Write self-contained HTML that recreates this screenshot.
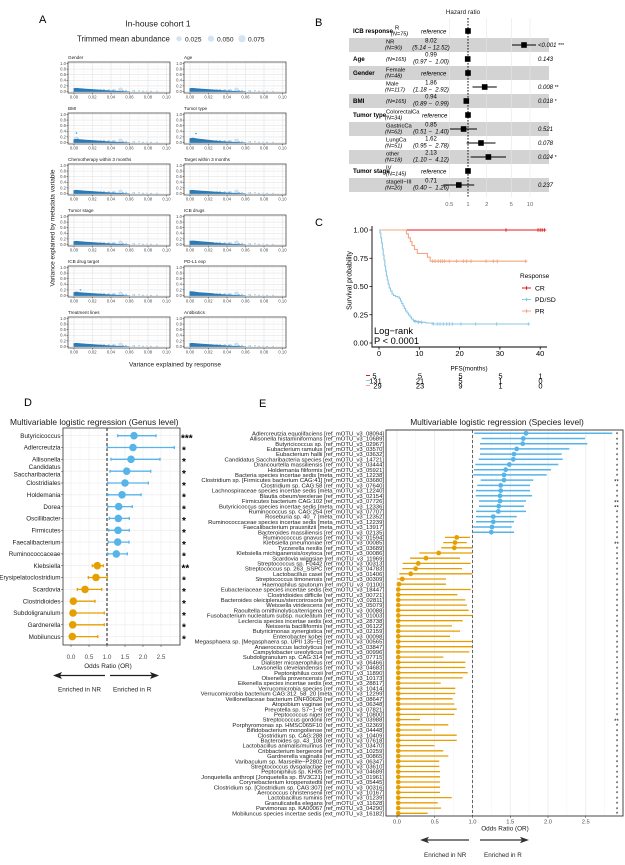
<!DOCTYPE html>
<html><head><meta charset="utf-8">
<style>
html,body{margin:0;padding:0;background:#fff;}
svg{display:block;font-family:"Liberation Sans",Arial,sans-serif;}
.pt{font-size:4.6px;fill:#1a1a1a}
.yt{font-size:4.2px;fill:#4d4d4d;text-anchor:end}
.xt{font-size:4.2px;fill:#4d4d4d;text-anchor:middle}
</style></head><body>
<svg width="625" height="865" viewBox="0 0 625 865" xmlns="http://www.w3.org/2000/svg">
<rect width="625" height="865" fill="#fff"/>
<defs>
<g id="ga">
<rect x="0" y="0" width="102" height="31" fill="#fff"/>
<path d="M15.25 0V31M33.75 0V31M52.25 0V31M70.75 0V31M89.25 0V31M0 26.7H102M0 21.1H102M0 15.5H102M0 9.9H102M0 4.3H102" stroke="#F2F2F2" stroke-width="0.4"/>
<path d="M6 0V31M24.5 0V31M43 0V31M61.5 0V31M80 0V31M98.5 0V31M0 29.5H102M0 23.9H102M0 18.3H102M0 12.7H102M0 7.1H102M0 1.5H102" stroke="#E3E3E3" stroke-width="0.6"/>
</g>
<g id="pa">
<circle cx="52.5" cy="27.8" r="2.3" fill="#C6DBEF" fill-opacity="0.85"/>
<circle cx="46.5" cy="28.4" r="1.5" fill="#C6DBEF" fill-opacity="0.85"/>
<circle cx="33" cy="28.2" r="1.3" fill="#C6DBEF"/>
<circle cx="40" cy="28.6" r="1.1" fill="#C6DBEF"/>
<circle cx="65" cy="29" r="1" fill="#C6DBEF"/>
<circle cx="79" cy="29.1" r="0.9" fill="#C6DBEF"/>
<path d="M5.5 29.9V26.3L8 25.9L12 26.3L18 26.8L26 27.3L34 27.9L42 28.5L50 28.9L58 29.3L62 29.5V29.9Z" fill="#2C7BB6"/>
<g fill="#4292C6">
<circle cx="36" cy="27.4" r="0.55"/><circle cx="41" cy="27.9" r="0.55"/><circle cx="45" cy="28.1" r="0.55"/><circle cx="55" cy="28.6" r="0.55"/><circle cx="58" cy="28.3" r="0.55"/><circle cx="66.5" cy="29" r="0.55"/><circle cx="71" cy="28.8" r="0.55"/><circle cx="75" cy="29.2" r="0.55"/><circle cx="83" cy="29.3" r="0.55"/><circle cx="89" cy="29.3" r="0.5"/>
</g>
</g>
<g id="ba">
<rect x="0" y="0" width="102" height="31" fill="none" stroke="#333" stroke-width="0.7"/>
<path d="M-1.5 29.5H0M-1.5 23.9H0M-1.5 18.3H0M-1.5 12.7H0M-1.5 7.1H0M-1.5 1.5H0M6 31V32.5M24.5 31V32.5M43 31V32.5M61.5 31V32.5M80 31V32.5M98.5 31V32.5" stroke="#333" stroke-width="0.5"/>
</g>
</defs>

<!-- Panel letters -->
<g font-size="11" fill="#000">
<text x="39" y="23">A</text>
<text x="315" y="26">B</text>
<text x="315" y="226">C</text>
<text x="24" y="406">D</text>
<text x="259" y="407">E</text>
</g>

<!-- ========== Panel A ========== -->
<text x="158" y="26.7" font-size="8.4" text-anchor="middle" fill="#1a1a1a">In-house cohort 1</text>
<text x="77" y="41.5" font-size="7.8" fill="#1a1a1a">Trimmed mean abundance</text>
<circle cx="179" cy="38.7" r="2.6" fill="#D2E3F3"/>
<text x="185" y="41.3" font-size="6.6" fill="#1a1a1a">0.025</text>
<circle cx="211" cy="38.7" r="3.1" fill="#D2E3F3"/>
<text x="217" y="41.3" font-size="6.6" fill="#1a1a1a">0.050</text>
<circle cx="242" cy="38.7" r="3.6" fill="#D2E3F3"/>
<text x="248" y="41.3" font-size="6.6" fill="#1a1a1a">0.075</text>

<!-- row 1 -->
<g transform="translate(0,62)">
<use href="#ga" x="68"/><use href="#pa" x="68"/><use href="#ba" x="68"/>
<use href="#ga" x="184"/><use href="#pa" x="184"/><use href="#ba" x="184"/>
<text class="pt" x="68" y="-3">Gender</text><text class="pt" x="184" y="-3">Age</text>
<text class="yt"><tspan x="66" y="2.9">1.0</tspan><tspan x="66" y="8.5">0.8</tspan><tspan x="66" y="14.1">0.6</tspan><tspan x="66" y="19.7">0.4</tspan><tspan x="66" y="25.3">0.2</tspan><tspan x="66" y="30.9">0.0</tspan><tspan x="182" y="2.9">1.0</tspan><tspan x="182" y="8.5">0.8</tspan><tspan x="182" y="14.1">0.6</tspan><tspan x="182" y="19.7">0.4</tspan><tspan x="182" y="25.3">0.2</tspan><tspan x="182" y="30.9">0.0</tspan></text>
<text class="xt"><tspan x="74" y="36.5">0.00</tspan><tspan x="92.5" y="36.5">0.02</tspan><tspan x="111" y="36.5">0.04</tspan><tspan x="129.5" y="36.5">0.06</tspan><tspan x="148" y="36.5">0.08</tspan><tspan x="166.5" y="36.5">0.10</tspan><tspan x="190" y="36.5">0.00</tspan><tspan x="208.5" y="36.5">0.02</tspan><tspan x="227" y="36.5">0.04</tspan><tspan x="245.5" y="36.5">0.06</tspan><tspan x="264" y="36.5">0.08</tspan><tspan x="282.5" y="36.5">0.10</tspan></text>
</g>
<!-- row 2 -->
<g transform="translate(0,113)">
<use href="#ga" x="68"/><use href="#pa" x="68"/>
<g transform="translate(68,0)" fill="#3F8DC6"><circle cx="8.5" cy="20" r="0.8"/><circle cx="7" cy="25" r="0.5"/><circle cx="10" cy="25.4" r="0.5"/><circle cx="9" cy="24.2" r="0.5"/></g>
<use href="#ba" x="68"/>
<use href="#ga" x="184"/><use href="#pa" x="184"/>
<g transform="translate(184,0)"><path d="M5.5 29V25.2L9 24.8L14 25.6L20 26.3L27 27.1L33 27.8V29Z" fill="#2C7BB6"/><circle cx="12" cy="20.5" r="0.8" fill="#3F8DC6"/></g>
<use href="#ba" x="184"/>
<text class="pt" x="68" y="-3">BMI</text><text class="pt" x="184" y="-3">Tumor type</text>
<text class="yt"><tspan x="66" y="2.9">1.0</tspan><tspan x="66" y="8.5">0.8</tspan><tspan x="66" y="14.1">0.6</tspan><tspan x="66" y="19.7">0.4</tspan><tspan x="66" y="25.3">0.2</tspan><tspan x="66" y="30.9">0.0</tspan><tspan x="182" y="2.9">1.0</tspan><tspan x="182" y="8.5">0.8</tspan><tspan x="182" y="14.1">0.6</tspan><tspan x="182" y="19.7">0.4</tspan><tspan x="182" y="25.3">0.2</tspan><tspan x="182" y="30.9">0.0</tspan></text>
<text class="xt"><tspan x="74" y="36.5">0.00</tspan><tspan x="92.5" y="36.5">0.02</tspan><tspan x="111" y="36.5">0.04</tspan><tspan x="129.5" y="36.5">0.06</tspan><tspan x="148" y="36.5">0.08</tspan><tspan x="166.5" y="36.5">0.10</tspan><tspan x="190" y="36.5">0.00</tspan><tspan x="208.5" y="36.5">0.02</tspan><tspan x="227" y="36.5">0.04</tspan><tspan x="245.5" y="36.5">0.06</tspan><tspan x="264" y="36.5">0.08</tspan><tspan x="282.5" y="36.5">0.10</tspan></text>
</g>
<!-- row 3 -->
<g transform="translate(0,164)">
<use href="#ga" x="68"/><use href="#pa" x="68"/><use href="#ba" x="68"/>
<use href="#ga" x="184"/><use href="#pa" x="184"/><use href="#ba" x="184"/>
<text class="pt" x="68" y="-3">Chemotherapy within 3 months</text><text class="pt" x="184" y="-3">Target within 3 months</text>
<text class="yt"><tspan x="66" y="2.9">1.0</tspan><tspan x="66" y="8.5">0.8</tspan><tspan x="66" y="14.1">0.6</tspan><tspan x="66" y="19.7">0.4</tspan><tspan x="66" y="25.3">0.2</tspan><tspan x="66" y="30.9">0.0</tspan><tspan x="182" y="2.9">1.0</tspan><tspan x="182" y="8.5">0.8</tspan><tspan x="182" y="14.1">0.6</tspan><tspan x="182" y="19.7">0.4</tspan><tspan x="182" y="25.3">0.2</tspan><tspan x="182" y="30.9">0.0</tspan></text>
<text class="xt"><tspan x="74" y="36.5">0.00</tspan><tspan x="92.5" y="36.5">0.02</tspan><tspan x="111" y="36.5">0.04</tspan><tspan x="129.5" y="36.5">0.06</tspan><tspan x="148" y="36.5">0.08</tspan><tspan x="166.5" y="36.5">0.10</tspan><tspan x="190" y="36.5">0.00</tspan><tspan x="208.5" y="36.5">0.02</tspan><tspan x="227" y="36.5">0.04</tspan><tspan x="245.5" y="36.5">0.06</tspan><tspan x="264" y="36.5">0.08</tspan><tspan x="282.5" y="36.5">0.10</tspan></text>
</g>
<!-- row 4 -->
<g transform="translate(0,215)">
<use href="#ga" x="68"/><use href="#pa" x="68"/><use href="#ba" x="68"/>
<use href="#ga" x="184"/><use href="#pa" x="184"/>
<g transform="translate(184,0)"><path d="M5.5 29V25.8L10 25.6L16 26.2L24 26.9L30 27.4V29Z" fill="#2C7BB6"/></g>
<use href="#ba" x="184"/>
<text class="pt" x="68" y="-3">Tumor stage</text><text class="pt" x="184" y="-3">ICB drugs</text>
<text class="yt"><tspan x="66" y="2.9">1.0</tspan><tspan x="66" y="8.5">0.8</tspan><tspan x="66" y="14.1">0.6</tspan><tspan x="66" y="19.7">0.4</tspan><tspan x="66" y="25.3">0.2</tspan><tspan x="66" y="30.9">0.0</tspan><tspan x="182" y="2.9">1.0</tspan><tspan x="182" y="8.5">0.8</tspan><tspan x="182" y="14.1">0.6</tspan><tspan x="182" y="19.7">0.4</tspan><tspan x="182" y="25.3">0.2</tspan><tspan x="182" y="30.9">0.0</tspan></text>
<text class="xt"><tspan x="74" y="36.5">0.00</tspan><tspan x="92.5" y="36.5">0.02</tspan><tspan x="111" y="36.5">0.04</tspan><tspan x="129.5" y="36.5">0.06</tspan><tspan x="148" y="36.5">0.08</tspan><tspan x="166.5" y="36.5">0.10</tspan><tspan x="190" y="36.5">0.00</tspan><tspan x="208.5" y="36.5">0.02</tspan><tspan x="227" y="36.5">0.04</tspan><tspan x="245.5" y="36.5">0.06</tspan><tspan x="264" y="36.5">0.08</tspan><tspan x="282.5" y="36.5">0.10</tspan></text>
</g>
<!-- row 5 -->
<g transform="translate(0,266)">
<use href="#ga" x="68"/><use href="#pa" x="68"/>
<g transform="translate(68,0)"><circle cx="12.5" cy="23.9" r="0.9" fill="#6AAED6"/><circle cx="8" cy="25.8" r="0.5" fill="#3F8DC6"/><circle cx="10" cy="26" r="0.5" fill="#3F8DC6"/></g>
<use href="#ba" x="68"/>
<use href="#ga" x="184"/><use href="#pa" x="184"/>
<g transform="translate(184,0)"><path d="M5.5 29V25.2L9 25.4L15 26.2L22 26.8L30 27.4V29Z" fill="#2C7BB6"/></g>
<use href="#ba" x="184"/>
<text class="pt" x="68" y="-3">ICB drug target</text><text class="pt" x="184" y="-3">PD-L1 exp</text>
<text class="yt"><tspan x="66" y="2.9">1.0</tspan><tspan x="66" y="8.5">0.8</tspan><tspan x="66" y="14.1">0.6</tspan><tspan x="66" y="19.7">0.4</tspan><tspan x="66" y="25.3">0.2</tspan><tspan x="66" y="30.9">0.0</tspan><tspan x="182" y="2.9">1.0</tspan><tspan x="182" y="8.5">0.8</tspan><tspan x="182" y="14.1">0.6</tspan><tspan x="182" y="19.7">0.4</tspan><tspan x="182" y="25.3">0.2</tspan><tspan x="182" y="30.9">0.0</tspan></text>
<text class="xt"><tspan x="74" y="36.5">0.00</tspan><tspan x="92.5" y="36.5">0.02</tspan><tspan x="111" y="36.5">0.04</tspan><tspan x="129.5" y="36.5">0.06</tspan><tspan x="148" y="36.5">0.08</tspan><tspan x="166.5" y="36.5">0.10</tspan><tspan x="190" y="36.5">0.00</tspan><tspan x="208.5" y="36.5">0.02</tspan><tspan x="227" y="36.5">0.04</tspan><tspan x="245.5" y="36.5">0.06</tspan><tspan x="264" y="36.5">0.08</tspan><tspan x="282.5" y="36.5">0.10</tspan></text>
</g>
<!-- row 6 -->
<g transform="translate(0,317)">
<use href="#ga" x="68"/><use href="#pa" x="68"/><use href="#ba" x="68"/>
<use href="#ga" x="184"/><use href="#pa" x="184"/><use href="#ba" x="184"/>
<text class="pt" x="68" y="-3">Treatment lines</text><text class="pt" x="184" y="-3">Antibiotics</text>
<text class="yt"><tspan x="66" y="2.9">1.0</tspan><tspan x="66" y="8.5">0.8</tspan><tspan x="66" y="14.1">0.6</tspan><tspan x="66" y="19.7">0.4</tspan><tspan x="66" y="25.3">0.2</tspan><tspan x="66" y="30.9">0.0</tspan><tspan x="182" y="2.9">1.0</tspan><tspan x="182" y="8.5">0.8</tspan><tspan x="182" y="14.1">0.6</tspan><tspan x="182" y="19.7">0.4</tspan><tspan x="182" y="25.3">0.2</tspan><tspan x="182" y="30.9">0.0</tspan></text>
<text class="xt"><tspan x="74" y="36.5">0.00</tspan><tspan x="92.5" y="36.5">0.02</tspan><tspan x="111" y="36.5">0.04</tspan><tspan x="129.5" y="36.5">0.06</tspan><tspan x="148" y="36.5">0.08</tspan><tspan x="166.5" y="36.5">0.10</tspan><tspan x="190" y="36.5">0.00</tspan><tspan x="208.5" y="36.5">0.02</tspan><tspan x="227" y="36.5">0.04</tspan><tspan x="245.5" y="36.5">0.06</tspan><tspan x="264" y="36.5">0.08</tspan><tspan x="282.5" y="36.5">0.10</tspan></text>
</g>
<text x="175" y="366.5" font-size="6.5" text-anchor="middle" fill="#1a1a1a">Variance explained by response</text>
<text transform="translate(54.5,228) rotate(-90)" font-size="6.5" text-anchor="middle" fill="#1a1a1a">Variance explained by metadata variable</text>

<!-- ========== Panel B ========== -->
<g fill="#D3D3D3">
<rect x="349" y="38" width="200" height="14"/><rect x="349" y="66" width="200" height="14"/><rect x="349" y="94" width="200" height="14"/><rect x="349" y="122" width="200" height="14"/><rect x="349" y="150" width="200" height="14"/><rect x="349" y="178" width="200" height="14"/>
</g>
<path d="M449.3 18V197M486.7 18V197M511.3 18V197M530 18V197" stroke="#E6E6E6" stroke-width="0.6"/>
<path d="M468 18V198" stroke="#111" stroke-width="1" stroke-dasharray="1.6 1.4"/>
<path d="M512 45H536M467.2 59H468M472.5 87H496.8M464.9 101H467.7M449.9 129H477M466.6 143H495.5M470.6 157H506M443.3 185H474.2" stroke="#000" stroke-width="1"/>
<g fill="#000">
<rect x="465.2" y="28.2" width="5.6" height="5.6"/><rect x="521.2" y="42.2" width="5.6" height="5.6"/><rect x="464.9" y="56.2" width="5.6" height="5.6"/><rect x="465.2" y="70.2" width="5.6" height="5.6"/><rect x="481.9" y="84.2" width="5.6" height="5.6"/><rect x="463.5" y="98.2" width="5.6" height="5.6"/><rect x="465.2" y="112.2" width="5.6" height="5.6"/><rect x="460.8" y="126.2" width="5.6" height="5.6"/><rect x="478.2" y="140.2" width="5.6" height="5.6"/><rect x="485.6" y="154.2" width="5.6" height="5.6"/><rect x="465.2" y="168.2" width="5.6" height="5.6"/><rect x="456" y="182.2" width="5.6" height="5.6"/>
</g>
<text x="463" y="14" font-size="6.3" text-anchor="middle" fill="#1a1a1a">Hazard ratio</text>
<g font-size="6.2" font-weight="bold" fill="#000">
<text x="353" y="33">ICB response</text><text x="353" y="61">Age</text><text x="353" y="75">Gender</text><text x="353" y="103">BMI</text><text x="353" y="117">Tumor type</text><text x="353" y="173">Tumor stage</text>
</g>
<g font-size="5.8" fill="#000">
<text x="395" y="29.5">R</text><text x="386" y="43.5">NR</text><text x="386" y="71.5">Female</text><text x="386" y="85.5">Male</text><text x="386" y="113.5">ColorectalCa</text><text x="386" y="127.5">GastricCa</text><text x="386" y="141.5">LungCa</text><text x="386" y="155.5">other</text><text x="386" y="169.5">IV</text><text x="386" y="183.5">stageII−III</text>
</g>
<g font-size="5.6" font-style="italic" fill="#000">
<text x="391" y="35.5">(N=75)</text><text x="385" y="49.5">(N=90)</text><text x="386" y="61">(N=165)</text><text x="385" y="77.5">(N=48)</text><text x="385" y="91.5">(N=117)</text><text x="386" y="103">(N=165)</text><text x="385" y="119.5">(N=34)</text><text x="385" y="133.5">(N=62)</text><text x="385" y="147.5">(N=51)</text><text x="385" y="161.5">(N=18)</text><text x="386" y="175.5">(N=145)</text><text x="385" y="189.5">(N=20)</text>
</g>
<g font-size="6" fill="#000" text-anchor="middle">
<text x="431" y="42.5">8.02</text><text x="431" y="56.5">0.99</text><text x="431" y="84.5">1.86</text><text x="431" y="98.5">0.94</text><text x="431" y="126.5">0.85</text><text x="431" y="140.5">1.62</text><text x="431" y="154.5">2.13</text><text x="431" y="182.5">0.71</text>
</g>
<g font-size="6" fill="#000" text-anchor="middle" font-style="italic">
<text x="431" y="49.5">(5.14 − 12.52)</text><text x="431" y="63.5">(0.97 − &#160;1.00)</text><text x="431" y="91.5">(1.18 − &#160;2.92)</text><text x="431" y="105.5">(0.89 − &#160;0.99)</text><text x="431" y="133.5">(0.51 − &#160;1.40)</text><text x="431" y="147.5">(0.95 − &#160;2.78)</text><text x="431" y="161.5">(1.10 − &#160;4.12)</text><text x="431" y="189.5">(0.40 − &#160;1.26)</text>
</g>
<g font-size="6" fill="#000" font-style="italic">
<text x="421" y="33.5">reference</text><text x="421" y="75.5">reference</text><text x="422" y="117.5">reference</text><text x="421" y="173.5">reference</text>
<text x="538" y="47">&lt;0.001 <tspan font-style="normal" font-size="5">***</tspan></text>
<text x="538" y="61">0.143</text>
<text x="538" y="89">0.008 <tspan font-style="normal" font-size="5">**</tspan></text>
<text x="538" y="103">0.018 <tspan font-style="normal" font-size="5">*</tspan></text>
<text x="538" y="131">0.521</text>
<text x="538" y="145">0.078</text>
<text x="538" y="159">0.024 <tspan font-style="normal" font-size="5">*</tspan></text>
<text x="538" y="187">0.237</text>
</g>
<g font-size="5.8" fill="#666" text-anchor="middle">
<text x="449.3" y="206">0.5</text><text x="468" y="206">1</text><text x="486.7" y="206">2</text><text x="511.3" y="206">5</text><text x="530" y="206">10</text>
</g>

<!-- ========== Panel C ========== -->
<path d="M372 226V347H547" fill="none" stroke="#000" stroke-width="0.9"/>
<path d="M369.5 230H372M369.5 258.25H372M369.5 286.5H372M369.5 314.75H372M369.5 343H372M379 347V349.5M419.3 347V349.5M459.6 347V349.5M499.9 347V349.5M540.2 347V349.5" stroke="#000" stroke-width="0.8"/>
<g font-size="7.5" fill="#000" text-anchor="end">
<text x="368" y="232.7">1.00</text><text x="368" y="261">0.75</text><text x="368" y="289.2">0.50</text><text x="368" y="317.5">0.25</text><text x="368" y="345.7">0.00</text>
</g>
<g font-size="7.5" fill="#000" text-anchor="middle">
<text x="379" y="356">0</text><text x="419.3" y="356">10</text><text x="459.6" y="356">20</text><text x="499.9" y="356">30</text><text x="540.2" y="356">40</text>
</g>
<text x="469" y="370.5" font-size="6.3" text-anchor="middle" fill="#000">PFS(months)</text>
<text transform="translate(351.5,280.5) rotate(-90)" font-size="7" text-anchor="middle" fill="#000">Survival probability</text>
<path d="M379 230H545" stroke="#E41A1C" stroke-width="1.1" fill="none"/>
<path d="M379 230H406.4V233.8H408.4V237.8H410.4V241.6H412V245.6H414.5V249.4H417.3V253.4H427.4V257.2H430.2V261.2H527" stroke="#F4A582" stroke-width="1.1" fill="none"/>
<path d="M379 230H380V233H380.8V238H381.6V243H382.4V249H383.2V255H384V260H384.8V266H385.6V271H386.4V276H387.3V280H388.2V284H389.2V288H390.5V291H392V294H393.5V295.5H395.5V296.5H397.5V297H399.3V298.5H400.5V301H401.7V303.5H403V306H404.3V308.5H405.6V311H407V313H408.5V315H410V317H411.5V319H413.3V320.5H416V321.5H420V322.3H426V323H433.3V324H528.3" stroke="#8CC7E6" stroke-width="1.1" fill="none"/>
<path d="M504.2 230h3.6M506 228.2v3.6M536.2 230h3.6M538 228.2v3.6M538.4 230h3.6M540.2 228.2v3.6M540.4 230h3.6M542.2 228.2v3.6M542.6 230h3.6M544.4 228.2v3.6" stroke="#E41A1C" stroke-width="0.9"/>
<path d="M430.9 261.2h3.6M432.7 259.4v3.6M433.2 261.2h3.6M435 259.4v3.6M436.5 261.2h3.6M438.3 259.4v3.6M438.9 261.2h3.6M440.7 259.4v3.6M440.9 261.2h3.6M442.7 259.4v3.6M442.9 261.2h3.6M444.7 259.4v3.6M447.5 261.2h3.6M449.3 259.4v3.6M454.9 261.2h3.6M456.7 259.4v3.6M461.5 261.2h3.6M463.3 259.4v3.6M464.9 261.2h3.6M466.7 259.4v3.6M469.2 261.2h3.6M471 259.4v3.6M484.2 261.2h3.6M486 259.4v3.6M491.5 261.2h3.6M493.3 259.4v3.6M495.5 261.2h3.6M497.3 259.4v3.6M523.9 261.2h3.6M525.7 259.4v3.6" stroke="#F4A582" stroke-width="0.9"/>
<path d="M413.2 321.5h3.6M415 319.7v3.6M416.5 322.3h3.6M418.3 320.5v3.6M419.9 322.3h3.6M421.7 320.5v3.6M431.5 324h3.6M433.3 322.2v3.6M435.5 324h3.6M437.3 322.2v3.6M438.2 324h3.6M440 322.2v3.6M441.5 324h3.6M443.3 322.2v3.6M444.9 324h3.6M446.7 322.2v3.6M447.5 324h3.6M449.3 322.2v3.6M450.5 324h3.6M452.3 322.2v3.6M459.2 324h3.6M461 322.2v3.6M473.9 324h3.6M475.7 322.2v3.6M494.9 324h3.6M496.7 322.2v3.6M526.5 324h3.6M528.3 322.2v3.6" stroke="#8CC7E6" stroke-width="0.9"/>
<text x="374" y="334" font-size="9.3" fill="#000">Log−rank</text>
<text x="374" y="344" font-size="9.3" fill="#000">P &lt; 0.0001</text>
<text x="520" y="278" font-size="6.5" fill="#000">Response</text>
<path d="M522 288H531M526.5 286.2v3.6" stroke="#E41A1C" stroke-width="1.1"/>
<path d="M522 299.5H531M526.5 297.7v3.6" stroke="#8CC7E6" stroke-width="1.1"/>
<path d="M522 311H531M526.5 309.2v3.6" stroke="#F4A582" stroke-width="1.1"/>
<g font-size="6.8" fill="#000"><text x="535" y="290.5">CR</text><text x="535" y="302">PD/SD</text><text x="535" y="313.5">PR</text></g>
<path d="M366 375.5H370" stroke="#E41A1C" stroke-width="1"/>
<path d="M366 380.5H370" stroke="#8CC7E6" stroke-width="1"/>
<path d="M366 385.5H370" stroke="#F4A582" stroke-width="1"/>
<g font-size="7.5" fill="#000" text-anchor="middle">
<text x="374.5" y="378.5">5</text><text x="420" y="378.5">5</text><text x="460.5" y="378.5">5</text><text x="500.5" y="378.5">5</text><text x="540.5" y="378.5">1</text>
<text x="375.5" y="383.5">131</text><text x="420" y="383.5">21</text><text x="460.5" y="383.5">5</text><text x="500.5" y="383.5">1</text><text x="540.5" y="383.5">0</text>
<text x="377.5" y="388.5">29</text><text x="420" y="388.5">23</text><text x="460.5" y="388.5">9</text><text x="500.5" y="388.5">1</text><text x="540.5" y="388.5">0</text>
</g>

<!-- ========== Panel D ========== -->
<text x="10" y="425" font-size="8.4" fill="#1a1a1a">Multivariable logistic regression (Genus level)</text>
<rect x="63" y="428" width="117" height="217" fill="#fff"/>
<path d="M80 428V645M98 428V645M116 428V645M134 428V645M152 428V645M170 428V645" stroke="#F3F3F3" stroke-width="0.5"/>
<path d="M71 428V645M89 428V645M107 428V645M125 428V645M143 428V645M161 428V645M63 435.7H180M63 447.5H180M63 459.3H180M63 471.2H180M63 483H180M63 494.8H180M63 506.6H180M63 518.4H180M63 530.3H180M63 542.1H180M63 553.9H180M63 565.7H180M63 577.5H180M63 589.4H180M63 601.2H180M63 613H180M63 624.8H180M63 636.6H180" stroke="#EBEBEB" stroke-width="0.6"/>
<path d="M107 428V645" stroke="#000" stroke-width="0.9" stroke-dasharray="3 2"/>
<path d="M117.7 435.7H156M107.3 447.5H174.3M111 459.3H160M110 471.2H150.7M107.7 483H148.3M107.7 494.8H141M107.7 506.6H132.3M109.3 518.4H129.3M108.7 530.3H129.3M108.3 542.1H129M107.7 553.9H127.3M117.7 434.2v3M156 434.2v3M107.3 446v3M174.3 446v3M111 457.8v3M160 457.8v3M110 469.7v3M150.7 469.7v3M107.7 481.5v3M148.3 481.5v3M107.7 493.3v3M141 493.3v3M107.7 505.1v3M132.3 505.1v3M109.3 516.9v3M129.3 516.9v3M108.7 528.8v3M129.3 528.8v3M108.3 540.6v3M129 540.6v3M107.7 552.4v3M127.3 552.4v3" stroke="#56B4E9" stroke-width="1.3" fill="none"/>
<path d="M92.3 565.7H103.3M88.3 577.5H107.3M77.3 589.4H101.7M71 601.2H95M71 613H104.3M71 624.8H104.3M71 636.6H97.7M92.3 564.2v3M103.3 564.2v3M88.3 576v3M107.3 576v3M77.3 587.9v3M101.7 587.9v3M95 599.7v3M104.3 611.5v3M104.3 623.3v3M97.7 635.1v3" stroke="#E69F00" stroke-width="1.3" fill="none"/>
<g fill="#56B4E9">
<circle cx="134" cy="435.7" r="3.8"/><circle cx="133" cy="447.5" r="3.8"/><circle cx="131" cy="459.3" r="3.8"/><circle cx="126.7" cy="471.2" r="3.8"/><circle cx="125" cy="483" r="3.8"/><circle cx="122" cy="494.8" r="3.8"/><circle cx="118.7" cy="506.6" r="3.8"/><circle cx="118.3" cy="518.4" r="3.8"/><circle cx="118" cy="530.3" r="3.8"/><circle cx="117.7" cy="542.1" r="3.8"/><circle cx="116.3" cy="553.9" r="3.8"/>
</g>
<g fill="#E69F00">
<circle cx="97.3" cy="565.7" r="3.8"/><circle cx="96" cy="577.5" r="3.8"/><circle cx="85" cy="589.4" r="3.8"/><circle cx="73.3" cy="601.2" r="3.8"/><circle cx="73" cy="613" r="3.8"/><circle cx="72.7" cy="624.8" r="3.8"/><circle cx="72.3" cy="636.6" r="3.8"/>
</g>
<rect x="63" y="428" width="117" height="217" fill="none" stroke="#333" stroke-width="0.8"/>
<path d="M61 435.7H63M61 447.5H63M61 459.3H63M61 471.2H63M61 483H63M61 494.8H63M61 506.6H63M61 518.4H63M61 530.3H63M61 542.1H63M61 553.9H63M61 565.7H63M61 577.5H63M61 589.4H63M61 601.2H63M61 613H63M61 624.8H63M61 636.6H63M71 645V647M89 645V647M107 645V647M125 645V647M143 645V647M161 645V647" stroke="#333" stroke-width="0.5"/>
<g font-size="6.3" fill="#1a1a1a" text-anchor="end">
<text x="60.5" y="437.9">Butyricicoccus</text><text x="60.5" y="449.7">Adlercreutzia</text><text x="60.5" y="461.5">Allisonella</text><text x="60.5" y="468.9">Candidatus</text><text x="60.5" y="476.5">Saccharibacteria</text><text x="60.5" y="485.2">Clostridiales</text><text x="60.5" y="497">Holdemania</text><text x="60.5" y="508.8">Dorea</text><text x="60.5" y="520.6">Oscillibacter</text><text x="60.5" y="532.5">Firmicutes</text><text x="60.5" y="544.3">Faecalibacterium</text><text x="60.5" y="556.1">Ruminococcaceae</text><text x="60.5" y="567.9">Klebsiella</text><text x="60.5" y="579.7">Erysipelatoclostridium</text><text x="60.5" y="591.6">Scardovia</text><text x="60.5" y="603.4">Clostridioides</text><text x="60.5" y="615.2">Subdoligranulum</text><text x="60.5" y="627">Gardnerella</text><text x="60.5" y="638.8">Mobiluncus</text>
</g>
<g font-size="10" font-weight="bold" fill="#000">
<text x="181" y="441.5">***</text><text x="182" y="453.3">*</text><text x="182" y="465.1">*</text><text x="182" y="477">*</text><text x="182" y="488.8">*</text><text x="182" y="500.6">*</text><text x="182" y="512.4">*</text><text x="182" y="524.2">*</text><text x="182" y="536.1">*</text><text x="182" y="547.9">*</text><text x="182" y="559.7">*</text><text x="181.5" y="571.5">**</text><text x="182" y="583.3">*</text><text x="182" y="595.2">*</text><text x="182" y="607">*</text><text x="182" y="618.8">*</text><text x="182" y="630.6">*</text><text x="182" y="642.4">*</text>
</g>
<g font-size="6.3" fill="#4d4d4d" text-anchor="middle">
<text x="71" y="659">0.0</text><text x="89" y="659">0.5</text><text x="107" y="659">1.0</text><text x="125" y="659">1.5</text><text x="143" y="659">2.0</text><text x="161" y="659">2.5</text>
</g>
<text x="108" y="668" font-size="6.4" text-anchor="middle" fill="#1a1a1a">Odds Ratio (OR)</text>
<path d="M105 675.5H58M110 675.5H154" stroke="#231F20" stroke-width="1.3"/>
<path d="M53 675.5L62 672L60 675.5L62 679Z M159 675.5L150 672L152 675.5L150 679Z" fill="#231F20"/>
<text x="58" y="691.5" font-size="6.4" fill="#231F20">Enriched in NR</text>
<text x="113" y="691.5" font-size="6.4" fill="#231F20">Enriched in R</text>

<!-- ========== Panel E ========== -->
<text x="497" y="425" font-size="8.4" text-anchor="middle" fill="#1a1a1a">Multivariable logistic regression (Species level)</text>
<rect x="386" y="430" width="237" height="386" fill="#fff"/>
<path d="M415.9 430V816M453.6 430V816M491.4 430V816M529.1 430V816M566.9 430V816M604.6 430V816" stroke="#F3F3F3" stroke-width="0.5"/>
<path d="M397 430V816M434.75 430V816M472.5 430V816M510.25 430V816M548 430V816M585.75 430V816" stroke="#E6E6E6" stroke-width="0.7"/>
<path d="M472.5 430V816" stroke="#444" stroke-width="0.8" stroke-dasharray="3 2"/>
<path d="M474.3 433.3H612.3M481.7 438.5H585M480 443.7H587.3M480 448.9H569.3M480 454.1H561.7M478.7 459.3H562.7M475.3 464.5H558.3M474 469.7H551M473.3 474.9H546.7M480.7 480.1H533.3M477.3 485.4H530M476 490.6H530M475.7 495.8H532M479 501H526M479 506.2H524M476 511.4H526M476 516.6H516.7M476 521.8H514M473.3 527H511.7M472.7 532.2H514" stroke="#56B4E9" stroke-width="1.5" fill="none"/>
<path d="M445 537.4H470M443.3 542.6H466.7M441.3 547.8H472.3M419.3 553H472.3M410 558.2H460M402.7 563.4H470.7M402.3 568.6H462M399.3 573.8H472.3M397.3 579H446M397.3 584.2H446M397.3 589.5H470.7M397.3 594.7H457.3M397.3 599.9H465.3M397.3 605.1H467M397.3 610.3H468.7M397.3 615.5H472.3M397.3 620.7H462.7M397.3 625.9H452M397.3 631.1H460M397.3 636.3H450M397.3 641.5H472.3M397.3 646.7H472.3M397.3 651.9H469.3M397.3 657.1H443.3M397.3 662.3H465.3M397.3 667.5H465.3M397.3 672.7H467.7M397.3 677.9H462.7M397.3 683.1H440.7M397.3 688.3H455.3M397.3 693.5H455.3M397.3 698.8H452.7M397.3 704H454.3M397.3 709.2H456.7M397.3 714.4H454.3M397.3 719.6H420M397.3 724.8H448.3M397.3 730H431.7M397.3 735.2H456.7M397.3 740.4H456.7M397.3 745.6H434.3M397.3 750.8H443.3M397.3 756H448.3M397.3 761.2H439.3M397.3 766.4H439.3M397.3 771.6H440M397.3 776.8H440M397.3 782H440M397.3 787.2H440M397.3 792.4H440M397.3 797.6H451.7M397.3 802.8H437.7M397.3 808.1H441M397.3 813.3H427.7" stroke="#E69F00" stroke-width="1.3" fill="none"/>
<g fill="#56B4E9">
<circle cx="526" cy="433.3" r="2.4"/><circle cx="523.3" cy="438.5" r="2.4"/><circle cx="522.7" cy="443.7" r="2.4"/><circle cx="516.7" cy="448.9" r="2.4"/><circle cx="514" cy="454.1" r="2.4"/><circle cx="513.3" cy="459.3" r="2.4"/><circle cx="509.3" cy="464.5" r="2.4"/><circle cx="505.7" cy="469.7" r="2.4"/><circle cx="504" cy="474.9" r="2.4"/><circle cx="504" cy="480.1" r="2.4"/><circle cx="500.7" cy="485.4" r="2.4"/><circle cx="500.7" cy="490.6" r="2.4"/><circle cx="500" cy="495.8" r="2.4"/><circle cx="500" cy="501" r="2.4"/><circle cx="498.7" cy="506.2" r="2.4"/><circle cx="498.3" cy="511.4" r="2.4"/><circle cx="493.3" cy="516.6" r="2.4"/><circle cx="493.3" cy="521.8" r="2.4"/><circle cx="492" cy="527" r="2.4"/><circle cx="491.3" cy="532.2" r="2.4"/>
</g>
<g fill="#E69F00">
<circle cx="456.7" cy="537.4" r="2.4"/><circle cx="455" cy="542.6" r="2.4"/><circle cx="454.3" cy="547.8" r="2.4"/><circle cx="438.7" cy="553" r="2.4"/><circle cx="426" cy="558.2" r="2.4"/><circle cx="418.3" cy="563.4" r="2.4"/><circle cx="415.7" cy="568.6" r="2.4"/><circle cx="410.7" cy="573.8" r="2.4"/><circle cx="402.3" cy="579" r="2.4"/><circle cx="399" cy="584.2" r="2.4"/>
</g>
<path d="M398.3 589.5V813.5" stroke="#E69F00" stroke-width="4.7" stroke-linecap="round" stroke-dasharray="0 5.205" fill="none"/>
<rect x="386" y="430" width="237" height="386" fill="none" stroke="#333" stroke-width="0.9"/>
<path d="M397 816V818M434.75 816V818M472.5 816V818M510.25 816V818M548 816V818M585.75 816V818" stroke="#333" stroke-width="0.5"/>
<g font-size="5.9" fill="#1a1a1a" text-anchor="end">
<text><tspan x="384" y="435.4">Adlercreutzia equolifaciens [ref_mOTU_v3_08094]</tspan><tspan x="384" y="440.6">Allisonella histaminiformans [ref_mOTU_v3_10689]</tspan><tspan x="384" y="445.8">Butyricicoccus sp. [ref_mOTU_v3_02967]</tspan><tspan x="384" y="451">Eubacterium ramulus [ref_mOTU_v3_03570]</tspan><tspan x="384" y="456.2">Eubacterium hallii [ref_mOTU_v3_03632]</tspan><tspan x="384" y="461.4">Candidatus Saccharibacteria species [ext_mOTU_v3_14721]</tspan><tspan x="384" y="466.6">Drancourtella massiliensis [ref_mOTU_v3_03444]</tspan><tspan x="384" y="471.8">Holdemania filiformis [ref_mOTU_v3_05921]</tspan><tspan x="384" y="477">Bacteria species incertae sedis [meta_mOTU_v3_12238]</tspan><tspan x="384" y="482.2">Clostridium sp. [Firmicutes bacterium CAG:41] [ref_mOTU_v3_03680]</tspan><tspan x="384" y="487.5">Clostridium sp. CAG:58 [ref_mOTU_v3_07640]</tspan><tspan x="384" y="492.7">Lachnospiraceae species incertae sedis [meta_mOTU_v3_12240]</tspan><tspan x="384" y="497.9">Blautia obeum/wexlerae [ref_mOTU_v3_02154]</tspan><tspan x="384" y="503.1">Firmicutes bacterium CAG:102 [ref_mOTU_v3_07726]</tspan><tspan x="384" y="508.3">Butyricicoccus species incertae sedis [meta_mOTU_v3_12336]</tspan><tspan x="384" y="513.5">Ruminococcus sp. CAG:254 [ref_mOTU_v3_07707]</tspan><tspan x="384" y="518.7">Roseburia sp. 40_7 [meta_mOTU_v3_12352]</tspan><tspan x="384" y="523.9">Ruminococcaceae species incertae sedis [meta_mOTU_v3_12239]</tspan><tspan x="384" y="529.1">Faecalibacterium prausnitzii [meta_mOTU_v3_13917]</tspan><tspan x="384" y="534.3">Bacteroides massiliensis [ref_mOTU_v3_02135]</tspan><tspan x="384" y="539.5">Ruminococcus gnavus [ref_mOTU_v3_01594]</tspan><tspan x="384" y="544.7">Klebsiella pneumoniae [ref_mOTU_v3_00085]</tspan><tspan x="384" y="549.9">Tyzzerella nexilis [ref_mOTU_v3_03689]</tspan><tspan x="384" y="555.1">Klebsiella michiganensis/oxytoca [ref_mOTU_v3_00086]</tspan><tspan x="384" y="560.3">Scardovia wiggsiae [ref_mOTU_v3_11969]</tspan><tspan x="384" y="565.5">Streptococcus sp. F0442 [ref_mOTU_v3_00313]</tspan><tspan x="384" y="570.7">Streptococcus sp. 263_SSPC [ref_mOTU_v3_04783]</tspan><tspan x="384" y="575.9">Lactobacillus casei [ref_mOTU_v3_01406]</tspan><tspan x="384" y="581.1">Streptococcus timonensis [ref_mOTU_v3_00309]</tspan><tspan x="384" y="586.3">Haemophilus sputorum [ref_mOTU_v3_01100]</tspan><tspan x="384" y="591.6">Eubacteriaceae species incertae sedis [ext_mOTU_v3_18447]</tspan><tspan x="384" y="596.8">Clostridioides difficile [ref_mOTU_v3_00721]</tspan><tspan x="384" y="602">Bacteroides oleiciplenus/stercorirosoris [ref_mOTU_v3_02811]</tspan><tspan x="384" y="607.2">Weissella viridescens [ref_mOTU_v3_05079]</tspan><tspan x="384" y="612.4">Raoultella ornithinolytica/terrigena [ref_mOTU_v3_00088]</tspan><tspan x="384" y="617.6">Fusobacterium nucleatum subsp. nucleatum [ref_mOTU_v3_01003]</tspan><tspan x="384" y="622.8">Leclercia species incertae sedis [ext_mOTU_v3_28738]</tspan><tspan x="384" y="628">Neisseria bacilliformis [ref_mOTU_v3_06122]</tspan><tspan x="384" y="633.2">Butyricimonas synergistica [ref_mOTU_v3_02159]</tspan><tspan x="384" y="638.4">Enterobacter kobei [ref_mOTU_v3_00098]</tspan><tspan x="384" y="643.6">Megasphaera sp. [Megasphaera sp. UPII 135−E] [ref_mOTU_v3_00565]</tspan><tspan x="384" y="648.8">Anaerococcus lactolyticus [ref_mOTU_v3_03847]</tspan><tspan x="384" y="654">Campylobacter ureolyticus [ref_mOTU_v3_00996]</tspan><tspan x="384" y="659.2">Subdoligranulum sp. CAG:314 [ref_mOTU_v3_07715]</tspan><tspan x="384" y="664.4">Dialister micraerophilus [ref_mOTU_v3_06466]</tspan><tspan x="384" y="669.6">Lawsonella clevelandensis [ref_mOTU_v3_04683]</tspan><tspan x="384" y="674.8">Peptoniphilus coxii [ref_mOTU_v3_11890]</tspan><tspan x="384" y="680">Olsenella provencensis [ref_mOTU_v3_10173]</tspan><tspan x="384" y="685.2">Eikenella species incertae sedis [ext_mOTU_v3_28817]</tspan><tspan x="384" y="690.4">Verrucomicrobia species [ref_mOTU_v3_10414]</tspan><tspan x="384" y="695.6">Verrucomicrobia bacterium CAG:312_58_20 [meta_mOTU_v3_12299]</tspan><tspan x="384" y="700.9">Veillonellaceae bacterium DNF00626 [ref_mOTU_v3_08647]</tspan><tspan x="384" y="706.1">Atopobium vaginae [ref_mOTU_v3_06348]</tspan><tspan x="384" y="711.3">Prevotella sp. S7−1−8 [ref_mOTU_v3_07821]</tspan><tspan x="384" y="716.5">Peptococcus niger [ref_mOTU_v3_10800]</tspan><tspan x="384" y="721.7">Streptococcus gordonii [ref_mOTU_v3_03988]</tspan><tspan x="384" y="726.9">Porphyromonas sp. HMSC065F10 [ref_mOTU_v3_02369]</tspan><tspan x="384" y="732.1">Bifidobacterium mongoliense [ref_mOTU_v3_04448]</tspan><tspan x="384" y="737.3">Clostridium sp. CAG:288 [ref_mOTU_v3_10409]</tspan><tspan x="384" y="742.5">Bacteroides sp. 43_108 [ref_mOTU_v3_07618]</tspan><tspan x="384" y="747.7">Lactobacillus animalis/murinus [ref_mOTU_v3_03470]</tspan><tspan x="384" y="752.9">Cribbacterium bergeronii [ref_mOTU_v3_10259]</tspan><tspan x="384" y="758.1">Gardnerella vaginalis [ref_mOTU_v3_00865]</tspan><tspan x="384" y="763.3">Varibaculum sp. Marseille−P2802 [ref_mOTU_v3_06347]</tspan><tspan x="384" y="768.5">Streptococcus dysgalactiae [ref_mOTU_v3_03610]</tspan><tspan x="384" y="773.7">Peptoniphilus sp. KH05 [ref_mOTU_v3_04689]</tspan><tspan x="384" y="778.9">Jonquetella anthropi [Jonquetella sp. BV3C21] [ref_mOTU_v3_01961]</tspan><tspan x="384" y="784.1">Corynebacterium kroppenstedtii [ref_mOTU_v3_05445]</tspan><tspan x="384" y="789.3">Clostridium sp. [Clostridium sp. CAG:307] [ref_mOTU_v3_00316]</tspan><tspan x="384" y="794.5">Aerococcus christensenii [ref_mOTU_v3_10167]</tspan><tspan x="384" y="799.7">Lactobacillus ruminis [ref_mOTU_v3_01239]</tspan><tspan x="384" y="804.9">Granulicatella elegans [ref_mOTU_v3_11628]</tspan><tspan x="384" y="810.2">Parvimonas sp. KA00067 [ref_mOTU_v3_04290]</tspan><tspan x="384" y="815.4">Mobiluncus species incertae sedis [ext_mOTU_v3_16182]</tspan></text>
</g>
<g font-size="6" fill="#000" text-anchor="middle">
<text><tspan x="617" y="436.6">*</tspan><tspan x="617" y="441.8">*</tspan><tspan x="617" y="447">*</tspan><tspan x="617" y="452.2">*</tspan><tspan x="617" y="457.4">*</tspan><tspan x="617" y="462.6">*</tspan><tspan x="617" y="467.8">*</tspan><tspan x="617" y="473">*</tspan><tspan x="617" y="478.2">*</tspan><tspan x="616.5" y="483.4">**</tspan><tspan x="617" y="488.7">*</tspan><tspan x="617" y="493.9">*</tspan><tspan x="617" y="499.1">*</tspan><tspan x="616.5" y="504.3">**</tspan><tspan x="616.5" y="509.5">**</tspan><tspan x="617" y="514.7">*</tspan><tspan x="617" y="519.9">*</tspan><tspan x="617" y="525.1">*</tspan><tspan x="617" y="530.3">*</tspan><tspan x="617" y="535.5">*</tspan><tspan x="617" y="540.7">*</tspan><tspan x="616.5" y="545.9">**</tspan><tspan x="617" y="551.1">*</tspan><tspan x="617" y="556.3">*</tspan><tspan x="617" y="561.5">*</tspan><tspan x="617" y="566.7">*</tspan><tspan x="617" y="571.9">*</tspan><tspan x="617" y="577.1">*</tspan><tspan x="617" y="582.3">*</tspan><tspan x="617" y="587.5">*</tspan><tspan x="617" y="592.8">*</tspan><tspan x="617" y="598">*</tspan><tspan x="617" y="603.2">*</tspan><tspan x="617" y="608.4">*</tspan><tspan x="617" y="613.6">*</tspan><tspan x="617" y="618.8">*</tspan><tspan x="617" y="624">*</tspan><tspan x="617" y="629.2">*</tspan><tspan x="617" y="634.4">*</tspan><tspan x="617" y="639.6">*</tspan><tspan x="617" y="644.8">*</tspan><tspan x="617" y="650">*</tspan><tspan x="617" y="655.2">*</tspan><tspan x="617" y="660.4">*</tspan><tspan x="617" y="665.6">*</tspan><tspan x="617" y="670.8">*</tspan><tspan x="617" y="676">*</tspan><tspan x="617" y="681.2">*</tspan><tspan x="617" y="686.4">*</tspan><tspan x="617" y="691.6">*</tspan><tspan x="617" y="696.8">*</tspan><tspan x="617" y="702.1">*</tspan><tspan x="617" y="707.3">*</tspan><tspan x="617" y="712.5">*</tspan><tspan x="617" y="717.7">*</tspan><tspan x="616.5" y="722.9">**</tspan><tspan x="617" y="728.1">*</tspan><tspan x="617" y="733.3">*</tspan><tspan x="617" y="738.5">*</tspan><tspan x="617" y="743.7">*</tspan><tspan x="617" y="748.9">*</tspan><tspan x="617" y="754.1">*</tspan><tspan x="617" y="759.3">*</tspan><tspan x="617" y="764.5">*</tspan><tspan x="617" y="769.7">*</tspan><tspan x="617" y="774.9">*</tspan><tspan x="617" y="780.1">*</tspan><tspan x="617" y="785.3">*</tspan><tspan x="617" y="790.5">*</tspan><tspan x="617" y="795.7">*</tspan><tspan x="617" y="800.9">*</tspan><tspan x="617" y="806.1">*</tspan><tspan x="617" y="811.4">*</tspan><tspan x="617" y="816.2">*</tspan></text>
</g>
<g font-size="5.8" fill="#4d4d4d" text-anchor="middle">
<text x="397" y="823.5">0.0</text><text x="434.75" y="823.5">0.5</text><text x="472.5" y="823.5">1.0</text><text x="510.25" y="823.5">1.5</text><text x="548" y="823.5">2.0</text><text x="585.75" y="823.5">2.5</text>
</g>
<text x="505" y="830.5" font-size="6.4" text-anchor="middle" fill="#1a1a1a">Odds Ratio (OR)</text>
<path d="M469 840H426M480 840H523" stroke="#333" stroke-width="1.3"/>
<path d="M420 840L429 836.8L427 840L429 843.2Z M529 840L520 836.8L522 840L520 843.2Z" fill="#333"/>
<text x="424" y="857" font-size="6.3" fill="#231F20">Enriched in NR</text>
<text x="484" y="857" font-size="6.3" fill="#231F20">Enriched in R</text>
</svg>
</body></html>
